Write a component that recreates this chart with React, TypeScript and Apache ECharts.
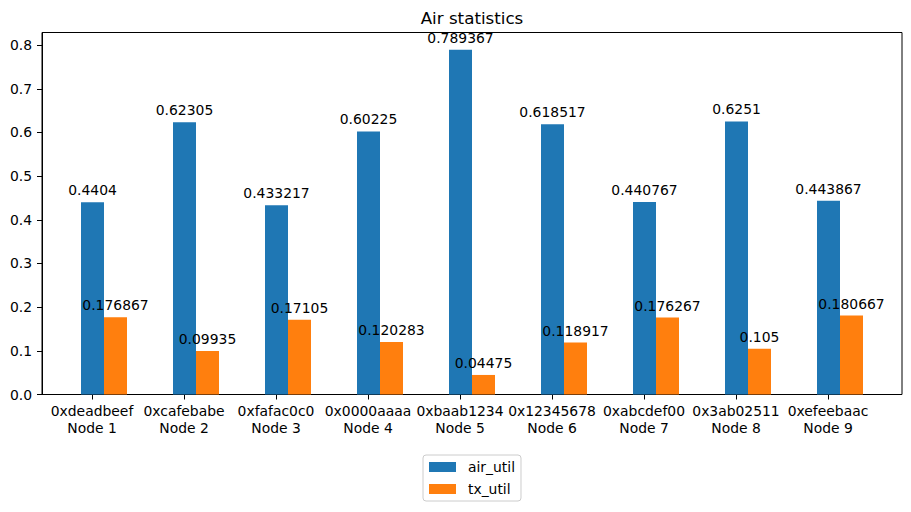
import React, { useEffect, useRef } from "react";
import * as echarts from "echarts";

const nodeIds = ["0xdeadbeef", "0xcafebabe", "0xfafac0c0", "0x0000aaaa", "0xbaab1234", "0x12345678", "0xabcdef00", "0x3ab02511", "0xefeebaac"];
const nodeNames = ["Node 1", "Node 2", "Node 3", "Node 4", "Node 5", "Node 6", "Node 7", "Node 8", "Node 9"];
const airUtil = [0.4404, 0.62305, 0.433217, 0.60225, 0.789367, 0.618517, 0.440767, 0.6251, 0.443867];
const txUtil = [0.176867, 0.09935, 0.17105, 0.120283, 0.04475, 0.118917, 0.176267, 0.105, 0.180667];
const yTicks = [0, 0.1, 0.2, 0.3, 0.4, 0.5, 0.6, 0.7, 0.8];
const yMax = 0.8288;

const FONT = "DejaVu Sans";

export default function App() {
  const ref = useRef<HTMLDivElement>(null);
  useEffect(() => {
    if (!ref.current) return;
    const chart = echarts.init(ref.current, null, { renderer: "svg" });
    const categories = nodeIds.map((id, i) => `${id}\n${nodeNames[i]}`);
    const gridTop = 32.5;
    const gridBottom = 117.5;
    const hiddenY = (gi: number) => ({
      type: "value",
      gridIndex: gi,
      min: 0,
      max: yMax,
      show: false,
    });
    const labelStyle = {
      show: true,
      position: "top",
      distance: 5,
      color: "#000",
      fontFamily: FONT,
      fontSize: 13.9,
      formatter: (p: any) => String(p.value),
    };
    chart.setOption({
      animation: false,
      backgroundColor: "#fff",
      textStyle: { fontFamily: FONT },
      graphic: [
        {
          type: "text",
          x: 472,
          y: 18,
          style: {
            text: "Air statistics",
            fontFamily: FONT,
            fontSize: 16.7,
            fill: "#000",
            textAlign: "center",
            textVerticalAlign: "middle",
          },
        },
      ],
      grid: [
        { left: 42, right: 9, top: gridTop, bottom: gridBottom, show: true, borderColor: "#000", borderWidth: 1, backgroundColor: "transparent" },
        { left: 58, right: 25, top: gridTop, bottom: gridBottom },
        { left: 46, right: 37, top: gridTop, bottom: gridBottom },
      ],
      xAxis: [
        { type: "value", gridIndex: 0, min: 0, max: 1, show: false },
        { type: "category", gridIndex: 1, data: categories, show: false },
        {
          type: "category",
          gridIndex: 2,
          data: categories,
          axisLine: { show: false },
          axisTick: { show: true, alignWithLabel: true, length: 5, lineStyle: { color: "#000", width: 1 } },
          axisLabel: { color: "#000", fontFamily: FONT, fontSize: 13.9, lineHeight: 17, margin: 8, interval: 0 },
          splitLine: { show: false },
        },
      ],
      yAxis: [
        {
          type: "value",
          gridIndex: 0,
          min: 0,
          max: yMax,
          axisLine: { show: true, lineStyle: { color: "#000", width: 1 } },
          axisTick: { show: true, length: 5, customValues: yTicks, lineStyle: { color: "#000", width: 1 } },
          axisLabel: {
            color: "#000",
            fontFamily: FONT,
            fontSize: 13.9,
            margin: 10,
            customValues: yTicks,
            formatter: (v: number) => v.toFixed(1),
          },
          splitLine: { show: false },
        },
        hiddenY(1),
        hiddenY(2),
      ],
      legend: {
        orient: "vertical",
        left: 423,
        top: 455,
        data: ["air_util", "tx_util"],
        icon: "rect",
        itemWidth: 27,
        itemHeight: 10,
        itemGap: 8,
        padding: [5, 6, 5, 6],
        borderColor: "#cccccc",
        borderWidth: 1,
        borderRadius: 3,
        textStyle: { color: "#000", fontFamily: FONT, fontSize: 13.9, lineHeight: 14, padding: [0, 0, 0, 7] },
      },
      series: [
        {
          name: "air_util",
          type: "bar",
          xAxisIndex: 1,
          yAxisIndex: 1,
          data: airUtil,
          barWidth: 23,
          barGap: "0%",
          itemStyle: { color: "#1f77b4", borderWidth: 0 },
          label: labelStyle,
        },
        {
          name: "tx_util",
          type: "bar",
          xAxisIndex: 1,
          yAxisIndex: 1,
          data: txUtil,
          barWidth: 23,
          barGap: "0%",
          itemStyle: { color: "#ff7f0e", borderWidth: 0 },
          label: labelStyle,
        },
      ],
    });
    return () => chart.dispose();
  }, []);
  return <div ref={ref} style={{ position: "absolute", left: 0, top: 0, width: 911, height: 512 }} />;
}
